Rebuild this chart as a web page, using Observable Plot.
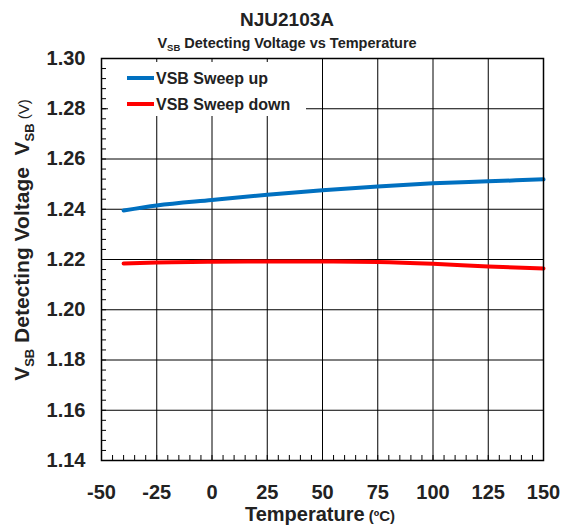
<!DOCTYPE html>
<html>
<head>
<meta charset="utf-8">
<script src="https://cdn.jsdelivr.net/npm/d3@7"></script>
<script src="https://cdn.jsdelivr.net/npm/@observablehq/plot@0.6"></script>
<style>
  html, body { margin: 0; padding: 0; background: #fff; }
  svg { display: block; }
</style>
</head>
<body>
<div id="chart"></div>
<script>
// Data
const temps = [-40, -25, 0, 25, 50, 75, 100, 125, 150];
const sweepUp = [1.2395, 1.2415, 1.2437, 1.2458, 1.2476, 1.2491, 1.2503, 1.2511, 1.2519];
const sweepDown = [1.2184, 1.2188, 1.2191, 1.2192, 1.2192, 1.2190, 1.2183, 1.2172, 1.2164];
const seriesNames = ["VSB Sweep up", "VSB Sweep down"];
const seriesColors = ["#0070C0", "#FF0000"];
const xTicks = [-50, -25, 0, 25, 50, 75, 100, 125, 150];
const yTicks = [1.14, 1.16, 1.18, 1.20, 1.22, 1.24, 1.26, 1.28, 1.30];
const xMinor = d3.range(-50, 150.1, 5);
const yMinor = d3.range(0, 41).map(i => 1.14 + i * 0.004);

const rows = [];
temps.forEach((t, i) => {
  rows.push({t, v: sweepUp[i], s: seriesNames[0]});
});
temps.forEach((t, i) => {
  rows.push({t, v: sweepDown[i], s: seriesNames[1]});
});

const W = 567, H = 528;
const mL = 101, mR = 24, mT = 58, mB = 68;
const pw = W - mL - mR, ph = H - mT - mB;

const svg = Plot.plot({
  width: W,
  height: H,
  marginLeft: mL,
  marginRight: mR,
  marginTop: mT,
  marginBottom: mB,
  style: {fontFamily: "'Liberation Sans', Arial, sans-serif", fontSize: "20px", fontWeight: "bold", color: "#222", background: "#fff"},
  x: {domain: [-50, 150], label: null},
  y: {domain: [1.14, 1.30], label: null},
  color: {domain: seriesNames, range: seriesColors},
  marks: [
    Plot.gridX(xTicks, {stroke: "#000", strokeOpacity: 1, strokeWidth: 1}),
    Plot.gridY(yTicks, {stroke: "#000", strokeOpacity: 1, strokeWidth: 1}),
    Plot.tickX(xMinor, {x: d => d, insetTop: ph - 5, stroke: "#000", strokeWidth: 1}),
    Plot.tickY(yMinor, {y: d => d, insetRight: pw - 5, stroke: "#000", strokeWidth: 1}),
    Plot.axisX(xTicks, {tickSize: 0, tickPadding: 24, label: null, tickFormat: d => String(d), fill: "#222"}),
    Plot.axisY(yTicks, {tickSize: 0, tickPadding: 16, label: null, tickFormat: d3.format(".2f"), fill: "#222"}),
    Plot.line(rows, {x: "t", y: "v", z: "s", stroke: "s", strokeWidth: 4, curve: "monotone-x"}),
    Plot.frame({stroke: "#000", strokeWidth: 1.5})
  ]
});

const s = d3.select(svg);
const font = "'Liberation Sans', Arial, sans-serif";

// Legend (inside plot, white box)
const lg = s.append("g").attr("text-anchor", "start");
lg.append("rect").attr("x", 108).attr("y", 62).attr("width", 198).attr("height", 54).attr("fill", "#fff");
seriesNames.forEach((name, i) => {
  const y = 78 + i * 26;
  lg.append("line").attr("x1", 127).attr("x2", 154).attr("y1", y).attr("y2", y)
    .attr("stroke", seriesColors[i]).attr("stroke-width", 4);
  lg.append("text").attr("x", 156).attr("y", y + 6).attr("text-anchor", "start").attr("font-family", font)
    .attr("font-size", 16).attr("font-weight", "bold").attr("fill", "#222").text(name);
});

// Title
s.append("text").attr("x", 287).attr("y", 26).attr("text-anchor", "middle")
  .attr("font-family", font).attr("font-size", 19).attr("font-weight", "bold").attr("fill", "#222")
  .text("NJU2103A");

// Subtitle with subscript
const st = s.append("text").attr("x", 287).attr("y", 48).attr("text-anchor", "middle")
  .attr("font-family", font).attr("font-size", 14.5).attr("font-weight", "bold").attr("fill", "#222");
st.append("tspan").text("V");
st.append("tspan").attr("font-size", 9.5).attr("dy", 3).text("SB");
st.append("tspan").attr("dy", -3).text(" Detecting Voltage vs Temperature");

// Y axis label (rotated)
const yl = s.append("text").attr("transform", "translate(29,240) rotate(-90)").attr("text-anchor", "middle")
  .attr("font-family", font).attr("font-size", 21).attr("font-weight", "bold").attr("fill", "#222");
yl.append("tspan").text("V");
yl.append("tspan").attr("font-size", 13).attr("dy", 5).text("SB");
yl.append("tspan").attr("dy", -5).text(" Detecting Voltage  V");
yl.append("tspan").attr("font-size", 13).attr("dy", 5).text("SB");
yl.append("tspan").attr("dy", -5).attr("font-size", 15).attr("font-weight", "normal").text(" (V)");

// X axis label
const xl = s.append("text").attr("x", 320).attr("y", 521).attr("text-anchor", "middle")
  .attr("font-family", font).attr("font-size", 20).attr("font-weight", "bold").attr("fill", "#222");
xl.append("tspan").text("Temperature");
xl.append("tspan").attr("font-size", 15).text(" (ºC)");

document.getElementById("chart").appendChild(svg);
</script>
</body>
</html>
